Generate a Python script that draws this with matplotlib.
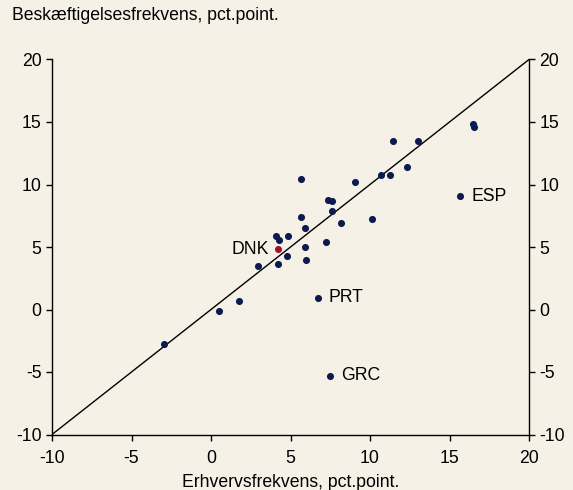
import numpy as np
import matplotlib.pyplot as plt

plt.rcParams['font.family'] = ['Liberation Sans', 'DejaVu Sans']
plt.rcParams['axes.unicode_minus'] = False

# erhvervsfrekvens (x) og beskæftigelsesfrekvens (y), ændring i pct.point
x = [-2.94, 0.48, 1.76, 2.95, 4.23, 4.80, 4.09, 4.25, 4.86, 5.68, 5.91, 5.91,
     5.99, 5.68, 7.25, 7.34, 7.61, 7.61, 8.15, 9.03, 10.12, 10.71, 11.28,
     11.45, 12.33, 13.02, 16.46, 16.56]
y = [-2.75, -0.08, 0.72, 3.47, 3.68, 4.29, 5.92, 5.60, 5.92, 7.44, 6.53, 4.99,
     3.97, 10.40, 5.41, 8.77, 8.67, 7.92, 6.93, 10.19, 7.23, 10.77, 10.77,
     13.44, 11.41, 13.44, 14.80, 14.56]

# navngivne lande
lande = ['ESP', 'PRT', 'GRC']
lande_x = [15.68, 6.71, 7.50]
lande_y = [9.07, 0.93, -5.28]
dnk_x, dnk_y = 4.23, 4.83

bg = '#f5f1e6'
navy = '#0b1a4f'
red = '#a3102c'
fs = 12.7

fig = plt.figure(figsize=(5.73, 4.9), dpi=100, facecolor=bg)
ax = fig.add_axes([52/573, 55.5/490, 477/573, 375/490], facecolor=bg)

ax.plot([-10, 20], [-10, 20], color='black', lw=1)
ax.scatter(x, y, s=26, color=navy, zorder=3, linewidths=0)
ax.scatter(lande_x, lande_y, s=26, color=navy, zorder=3, linewidths=0)
ax.scatter([dnk_x], [dnk_y], s=26, color=red, zorder=3, linewidths=0)

for name, px, py in zip(lande, lande_x, lande_y):
    ax.annotate(name, (px, py), xytext=(8, 0), textcoords='offset points',
                va='center', ha='left', fontsize=fs)
ax.annotate('DNK', (dnk_x, dnk_y), xytext=(-7, 0), textcoords='offset points',
            va='center', ha='right', fontsize=fs)

ax.set_xlim(-10, 20)
ax.set_ylim(-10, 20)
ax.set_xticks(np.arange(-10, 21, 5))
ax.set_yticks(np.arange(-10, 21, 5))
ax.spines['top'].set_visible(False)
for s in ['left', 'right', 'bottom']:
    ax.spines[s].set_linewidth(1)
ax.tick_params(direction='out', length=4, width=1, labelsize=fs,
               left=True, right=True, labelright=True)
ax.tick_params(axis='x', pad=7)

ax.set_xlabel('Erhvervsfrekvens, pct.point.', fontsize=fs, labelpad=5)
fig.text(12/573, 1 - 15/490, 'Beskæftigelsesfrekvens, pct.point.',
         fontsize=fs, va='center', ha='left')

fig.savefig('out.png', dpi=100, facecolor=bg)
